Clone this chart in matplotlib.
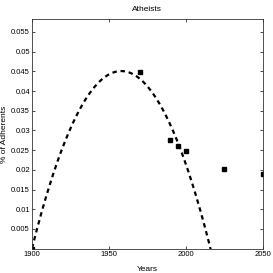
import numpy as np
import matplotlib
matplotlib.use("Agg")
import matplotlib.pyplot as plt

# observed data points
years = [1900, 1970, 1990, 1995, 2000, 2025, 2050]
adherents = [0.0, 0.0448, 0.0277, 0.0261, 0.0248, 0.0203, 0.0190]

# points
curve_years = [1900, 1924, 1958, 1992, 2016]
curve_values = [0.0, 0.0299, 0.0447, 0.0299, 0.0]

xticks = [1900, 1950, 2000, 2050]
yticks = [0.005, 0.01, 0.015, 0.02, 0.025, 0.03, 0.035, 0.04, 0.045, 0.05, 0.055]
ytick_labels = ["0.005", "0.01", "0.015", "0.02", "0.025", "0.03", "0.035",
                "0.04", "0.045", "0.05", "0.055"]

plt.rcParams['font.family'] = ['Liberation Sans Narrow', 'Liberation Sans', 'DejaVu Sans']

fig = plt.figure(figsize=(2.73, 2.73), dpi=100)
ax = fig.add_axes([32/273, 1 - 248.7/273, (262.7 - 32)/273, (248.7 - 19.3)/273])

coef = np.polyfit(curve_years, curve_values, 2)
xs = np.linspace(1900, 2050, 400)
ys = np.polyval(coef, xs)
ax.plot(xs, ys, linestyle=(0, (2.0, 1.7)), color='black', linewidth=1.6)
ax.plot(years, adherents, linestyle='none', marker='s', markersize=2.6, color='black')

ax.set_xlim(1900, 2050)
ax.set_ylim(0, 0.0582)
ax.set_xticks(xticks)
ax.set_xticklabels([str(x) for x in xticks])
ax.set_yticks(yticks)
ax.set_yticklabels(ytick_labels)
ax.tick_params(direction='in', top=True, right=True, labelsize=5.5, length=2.5, width=0.5, pad=1.5)
for s in ax.spines.values():
    s.set_linewidth(0.6)
    s.set_color('#333333')
ax.set_title("Atheists", fontsize=6, pad=6)
ax.set_xlabel("Years", fontsize=6)
ax.xaxis.set_label_coords(0.5, -0.075)
ax.set_ylabel("% of Adherents", fontsize=6)
ax.yaxis.set_label_coords(-24/230.7, 0.5)

fig.savefig("out.png", dpi=100)
